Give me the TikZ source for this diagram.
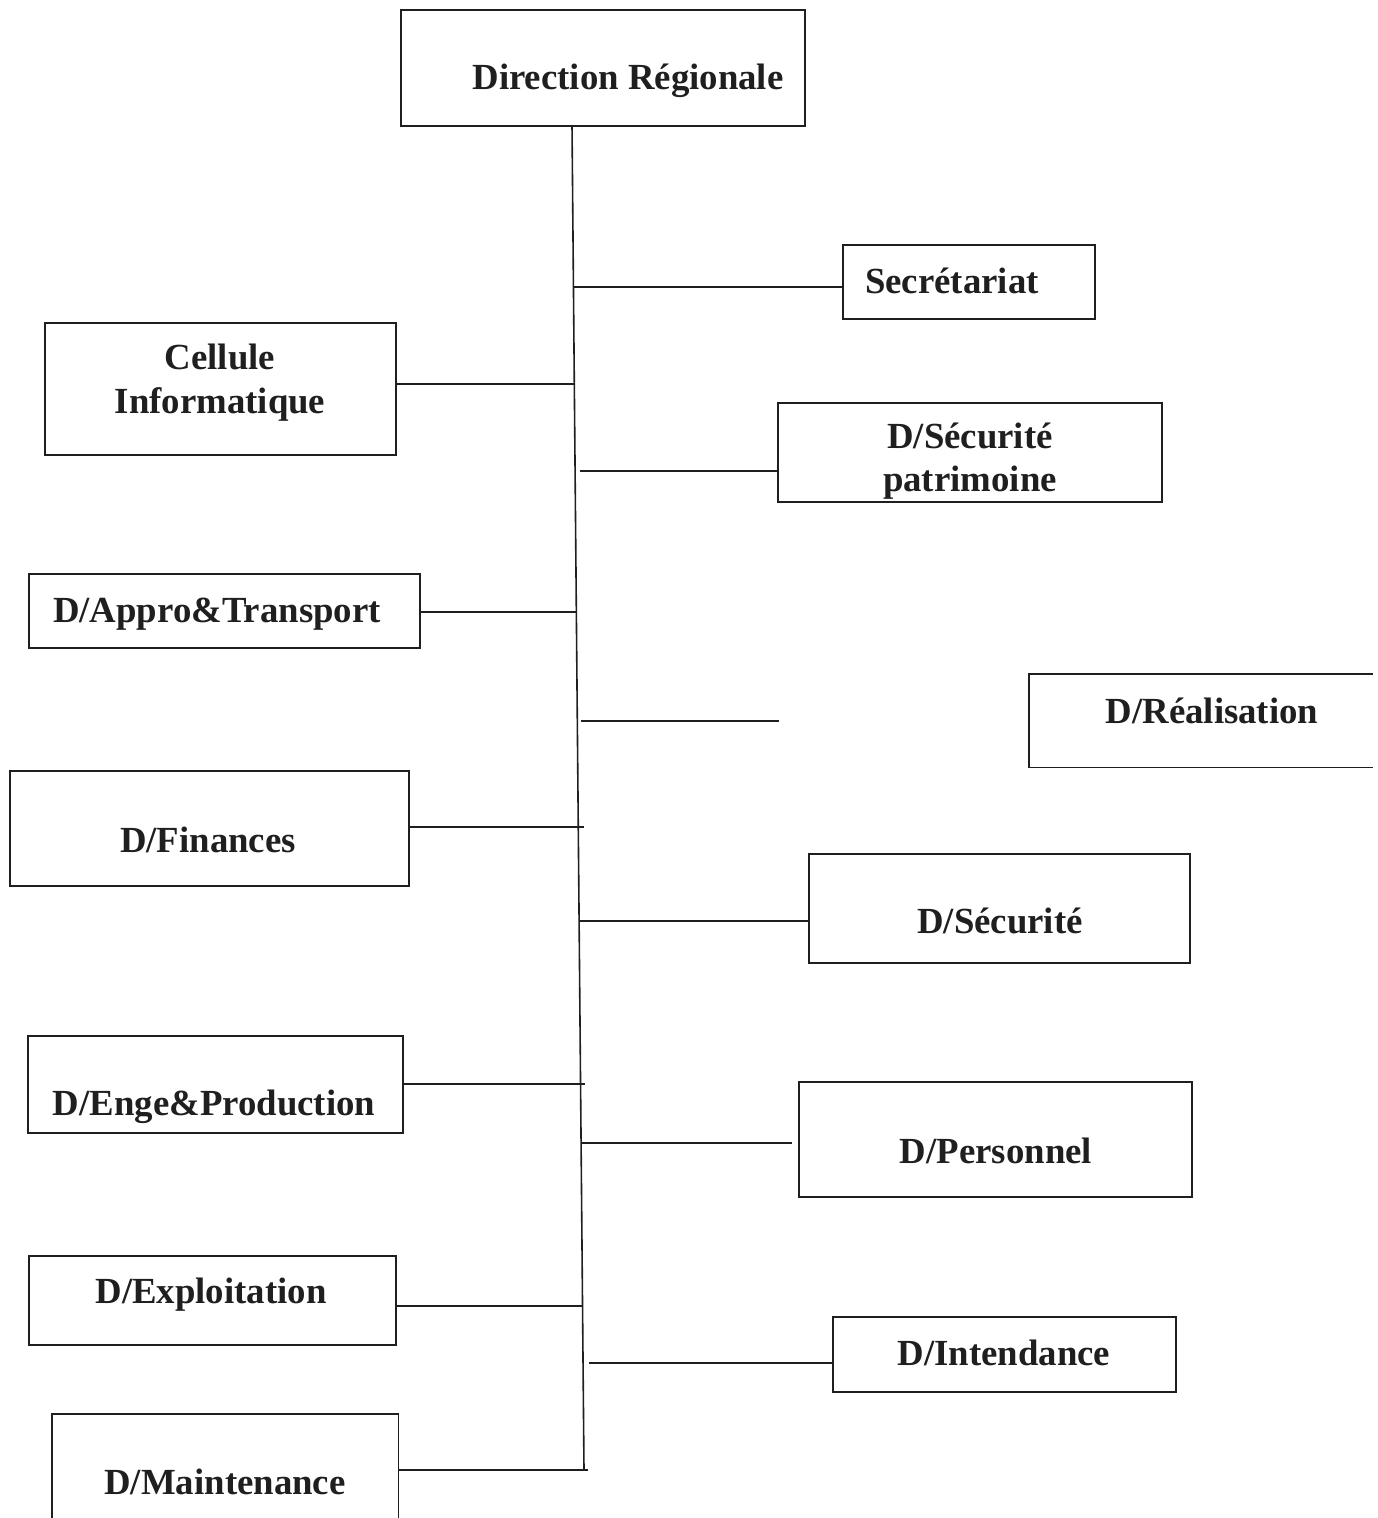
\documentclass[tikz,border=0pt]{standalone}
\usepackage{fontspec}
\setmainfont{Liberation Serif}
\begin{document}
\begin{tikzpicture}[x=1pt,y=-1pt,
  line width=1.6pt, draw=black!88,
  box/.style={draw, rectangle, inner sep=0pt, anchor=north west},
  openbox/.style={draw=none, rectangle, inner sep=0pt, anchor=north west},
  lbl/.style={anchor=base, inner sep=0pt, text=black!88, font=\bfseries\fontsize{36.8}{44}\selectfont},
  link/.style={line width=1.6pt}]
\useasboundingbox (0,0) rectangle (1377,1518);
\clip (0,0) rectangle (1377,1518);
% boxes
\node[box, minimum width=404, minimum height=116] (dr) at (400,9) {};
\node[box, minimum width=252, minimum height=74] (sec) at (842,244) {};
\node[box, minimum width=351, minimum height=132] (cell) at (44,322) {};
\node[box, minimum width=384, minimum height=99] (secp) at (777,402) {};
\node[box, minimum width=391, minimum height=74] (appro) at (28,573) {};
\node[openbox, minimum width=342, minimum height=92] (real) at (1029,674) {};
\node[box, minimum width=399, minimum height=115] (fin) at (9,770) {};
\node[box, minimum width=381, minimum height=109] (secu) at (808,853) {};
\node[box, minimum width=375, minimum height=97] (enge) at (27,1035) {};
\node[box, minimum width=393, minimum height=115] (pers) at (798,1081) {};
\node[box, minimum width=367, minimum height=89] (expl) at (28,1255) {};
\node[box, minimum width=343, minimum height=75] (inte) at (832,1316) {};
\node[openbox, minimum width=345, minimum height=104] (maint) at (52,1414) {};
\draw (real.north east) -- (real.north west) -- (real.south west) -- (real.south east);
\draw (maint.south west) -- (maint.north west) -- (maint.north east) -- (maint.south east);
% labels
\node[lbl] (tdr) at (628,89) {Direction Régionale};
\node[lbl] (tsec) at (952,293) {Secrétariat};
\node[lbl] (tcell1) at (220,369) {Cellule};
\node[lbl] (tcell2) at (220,413) {Informatique};
\node[lbl] (tsecp1) at (970,448) {D/Sécurité};
\node[lbl] (tsecp2) at (970,491) {patrimoine};
\node[lbl] (tappro) at (217,622) {D/Appro\&Transport};
\node[lbl] (treal) at (1212,723) {D/Réalisation};
\node[lbl] (tfin) at (208,852) {D/Finances};
\node[lbl] (tsecu) at (1000,933) {D/Sécurité};
\node[lbl] (tenge) at (214,1115) {D/Enge\&Production};
\node[lbl] (tpers) at (996,1163) {D/Personnel};
\node[lbl] (texpl) at (211,1303) {D/Exploitation};
\node[lbl] (tinte) at (1004,1365) {D/Intendance};
\node[lbl] (tmaint) at (225,1494) {D/Maintenance};
% trunk
\coordinate (ttop) at (572,125);
\coordinate (tbot) at (584,1470);
\draw[link] (ttop) -- (tbot);
% connector ends near the trunk
\coordinate (c1) at (573,287);
\coordinate (c2) at (575,384);
\coordinate (c3) at (580,471);
\coordinate (c4) at (576,612);
\coordinate (c5) at (581,721);
\coordinate (c5e) at (779,721);
\coordinate (c6) at (584,827);
\coordinate (c7) at (580,921);
\coordinate (c8) at (585,1084);
\coordinate (c9) at (582,1143);
\coordinate (c9e) at (792,1143);
\coordinate (c10) at (582,1306);
\coordinate (c11) at (589,1363);
\coordinate (c12) at (588,1470);
\draw[link] (c1) -- (c1 -| sec.west);
\draw[link] (c2) -- (c2 -| cell.east);
\draw[link] (c3) -- (c3 -| secp.west);
\draw[link] (c4) -- (c4 -| appro.east);
\draw[link] (c5) -- (c5e);
\draw[link] (c6) -- (c6 -| fin.east);
\draw[link] (c7) -- (c7 -| secu.west);
\draw[link] (c8) -- (c8 -| enge.east);
\draw[link] (c9) -- (c9e);
\draw[link] (c10) -- (c10 -| expl.east);
\draw[link] (c11) -- (c11 -| inte.west);
\draw[link] (c12) -- (c12 -| maint.east);
\end{tikzpicture}
\end{document}
